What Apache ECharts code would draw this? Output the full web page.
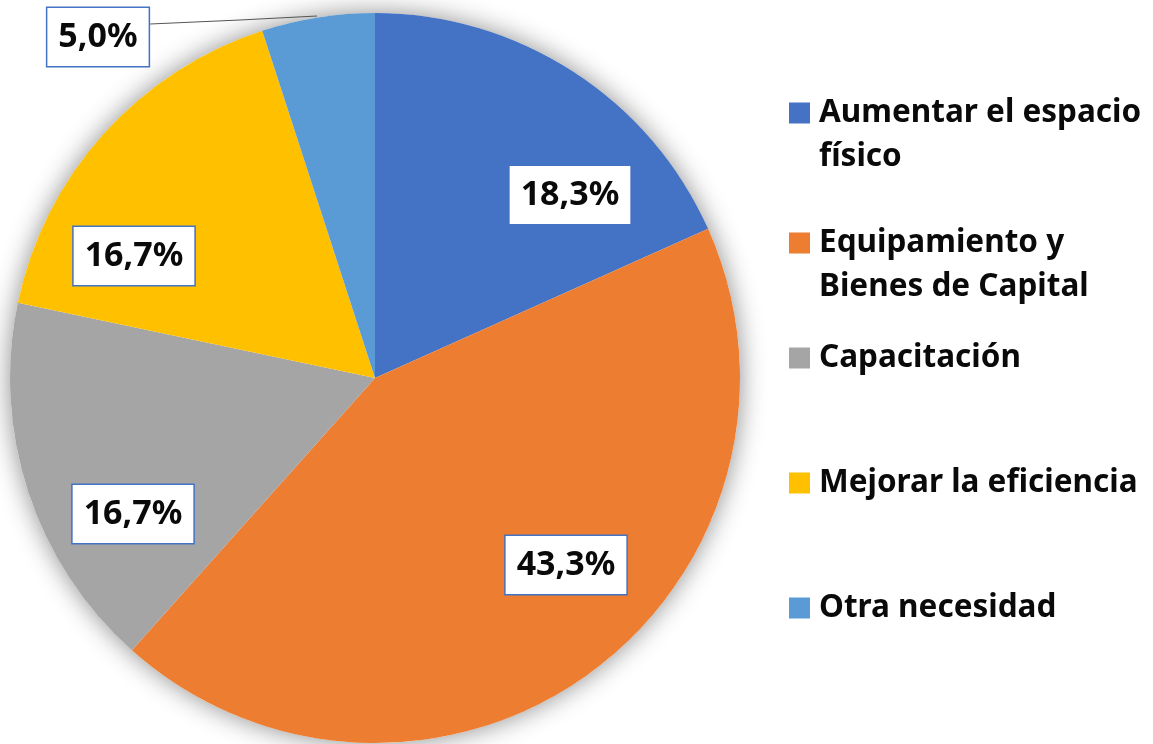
<!DOCTYPE html>
<html lang="es">
  <head>
    <meta charset="UTF-8" />
    <title>Necesidades</title>
    <script src="https://cdn.jsdelivr.net/npm/echarts/dist/echarts.min.js"></script>
    <style>
      html, body { margin: 0; padding: 0; background: #fff; }
      #chart { width: 1153px; height: 744px; }
    </style>
  </head>
  <body>
    <div id="chart"></div>
    <script>
      // datos
      var categories = [
        "Aumentar el espacio\nfísico",
        "Equipamiento y\nBienes de Capital",
        "Capacitación",
        "Mejorar la eficiencia",
        "Otra necesidad"
      ];
      var values = [18.3, 43.3, 16.7, 16.7, 5.0];
      var colors = ["#4472C4", "#ED7D31", "#A5A5A5", "#FFC000", "#5B9BD5"];

      // posiciones de las etiquetas (centro de la caja) y leyenda
      var labelPos = [[570, 195], [566, 565], [133, 514], [134, 256], [98, 37]];
      var legendTops = [95, 225, 340, 465, 590];

      var font = "Noto Sans";
      var chart = echarts.init(document.getElementById("chart"));

      var legends = categories.map(function (name, i) {
        return {
          data: [name],
          left: 789,
          top: legendTops[i],
          padding: 0,
          icon: "rect",
          itemWidth: 21,
          itemHeight: 21,
          selectedMode: false,
          formatter: function (n) { return n.split("\n")[0]; },
          textStyle: {
            fontFamily: font, fontWeight: "bold", fontSize: 31.5,
            lineHeight: 36, color: "#0a0a0a", padding: [0, 0, 0, 4]
          }
        };
      });

      // segundas líneas de la leyenda
      var extraLines = [];
      categories.forEach(function (name, i) {
        var parts = name.split("\n");
        if (parts.length > 1) {
          extraLines.push({
            type: "text",
            x: 819,
            y: legendTops[i] + 18 + 44,
            style: {
              text: parts[1], fill: "#0a0a0a",
              font: "bold 31.5px '" + font + "'",
              verticalAlign: "middle"
            }
          });
        }
      });

      var labelStyle = {
        show: true,
        position: "inside",
        formatter: function (p) {
          return p.value.toFixed(1).replace(".", ",") + "%";
        },
        fontFamily: font,
        fontWeight: "bold",
        fontSize: 34,
        color: "#0a0a0a",
        backgroundColor: "#fff",
        borderColor: "#4472C4",
        borderWidth: 1.5,
        padding: [13, 11, 11, 11]
      };

      var option = {
        backgroundColor: "#fff",
        color: colors,
        legend: legends,
        graphic: extraLines,
        series: [
          {
            // sombra del círculo
            type: "pie",
            silent: true,
            center: [375, 378],
            radius: 365,
            z: 1,
            label: { show: false },
            labelLine: { show: false },
            itemStyle: {
              color: "#fff",
              shadowBlur: 26,
              shadowColor: "rgba(0,0,0,0.45)"
            },
            data: [{ value: 1, name: "" }]
          },
          {
            type: "pie",
            center: [375, 378],
            radius: 365,
            startAngle: 90,
            clockwise: true,
            z: 2,
            data: categories.map(function (c, i) {
              var d = { name: c, value: values[i] };
              if (i === 4) {
                d.label = { position: "outside" };
                d.labelLine = { show: true };
              }
              return d;
            }),
            label: labelStyle,
            labelLine: {
              show: false,
              lineStyle: { color: "#555", width: 1 }
            },
            labelLayout: function (params) {
              var i = params.dataIndex;
              var pos = labelPos[i];
              var out = { x: pos[0], y: pos[1], align: "center", verticalAlign: "middle" };
              if (i === 4) {
                var r = params.labelRect;
                out.labelLinePoints = [[pos[0] + r.width / 2, 24], [240, 20], [317, 16]];
              }
              return out;
            }
          }
        ]
      };

      chart.setOption(option);
    </script>
  </body>
</html>
